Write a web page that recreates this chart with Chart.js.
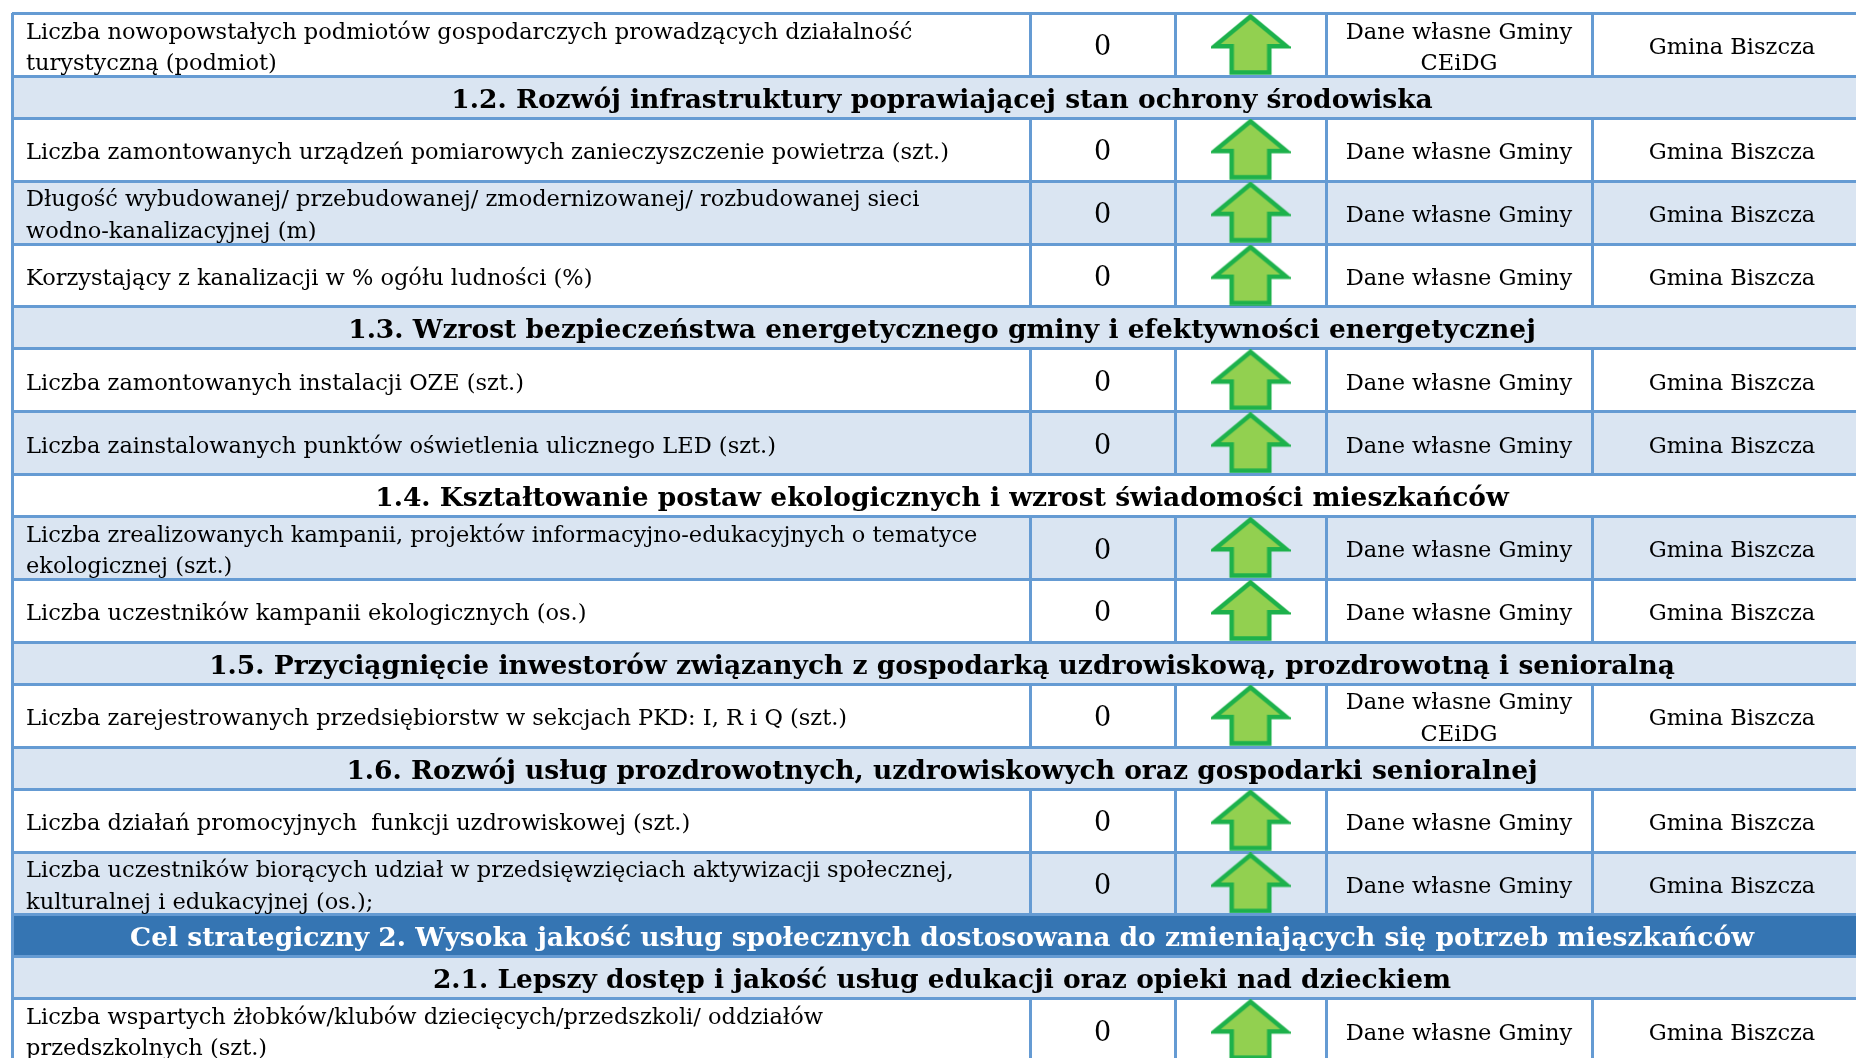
<!DOCTYPE html>
<html lang="pl">
<head>
<meta charset="utf-8">
<title>Wskaźniki</title>
<script src="https://cdn.jsdelivr.net/npm/chart.js@4.4.1/dist/chart.umd.min.js"></script>
<style>
  html, body { margin: 0; padding: 0; background: #fff; }
  #wrap { width: 1856px; height: 1058px; }
</style>
</head>
<body>
<div id="wrap"><canvas id="tabela"></canvas></div>
<script>
// rodzaj wiersza: ind = wskaźnik, sub = cel operacyjny, goal = cel strategiczny
const rowKind = ["ind", "sub", "ind", "ind", "ind", "sub", "ind", "ind", "sub", "ind",
                 "ind", "sub", "ind", "sub", "ind", "ind", "goal", "sub", "ind"];

const rowLabel = [
    "Liczba nowopowstałych podmiotów gospodarczych prowadzących działalność\nturystyczną (podmiot)",
    "1.2. Rozwój infrastruktury poprawiającej stan ochrony środowiska",
    "Liczba zamontowanych urządzeń pomiarowych zanieczyszczenie powietrza (szt.)",
    "Długość wybudowanej/ przebudowanej/ zmodernizowanej/ rozbudowanej sieci\nwodno-kanalizacyjnej (m)",
    "Korzystający z kanalizacji w % ogółu ludności (%)",
    "1.3. Wzrost bezpieczeństwa energetycznego gminy i efektywności energetycznej",
    "Liczba zamontowanych instalacji OZE (szt.)",
    "Liczba zainstalowanych punktów oświetlenia ulicznego LED (szt.)",
    "1.4. Kształtowanie postaw ekologicznych i wzrost świadomości mieszkańców",
    "Liczba zrealizowanych kampanii, projektów informacyjno-edukacyjnych o tematyce\nekologicznej (szt.)",
    "Liczba uczestników kampanii ekologicznych (os.)",
    "1.5. Przyciągnięcie inwestorów związanych z gospodarką uzdrowiskową, prozdrowotną i senioralną",
    "Liczba zarejestrowanych przedsiębiorstw w sekcjach PKD: I, R i Q (szt.)",
    "1.6. Rozwój usług prozdrowotnych, uzdrowiskowych oraz gospodarki senioralnej",
    "Liczba działań promocyjnych  funkcji uzdrowiskowej (szt.)",
    "Liczba uczestników biorących udział w przedsięwzięciach aktywizacji społecznej,\nkulturalnej i edukacyjnej (os.);",
    "Cel strategiczny 2. Wysoka jakość usług społecznych dostosowana do zmieniających się potrzeb mieszkańców",
    "2.1. Lepszy dostęp i jakość usług edukacji oraz opieki nad dzieckiem",
    "Liczba wspartych żłobków/klubów dziecięcych/przedszkoli/ oddziałów\nprzedszkolnych (szt.)"
];

const rowValue = [0, null, 0, 0, 0, null, 0, 0, null, 0, 0, null, 0, null, 0, 0, null, null, 0];

const rowTrend = ["up", null, "up", "up", "up", null, "up", "up", null, "up",
                  "up", null, "up", null, "up", "up", null, null, "up"];

const rowSource = [
    "Dane własne Gminy\nCEiDG", null, "Dane własne Gminy", "Dane własne Gminy", "Dane własne Gminy",
    null, "Dane własne Gminy", "Dane własne Gminy", null, "Dane własne Gminy",
    "Dane własne Gminy", null, "Dane własne Gminy\nCEiDG", null, "Dane własne Gminy",
    "Dane własne Gminy", null, null, "Dane własne Gminy"
];

const rowArea = [
    "Gmina Biszcza", null, "Gmina Biszcza", "Gmina Biszcza", "Gmina Biszcza",
    null, "Gmina Biszcza", "Gmina Biszcza", null, "Gmina Biszcza",
    "Gmina Biszcza", null, "Gmina Biszcza", null, "Gmina Biszcza",
    "Gmina Biszcza", null, null, "Gmina Biszcza"
];

// układ tabeli
const rowHeight = { ind: 3, sub: 2, goal: 2 };        // w jednostkach osi y
const colEdges = [12, 1030, 1175, 1326, 1592, 1872];  // w jednostkach osi x
const lineColor = "#659bd3";
const lightFill = "#dae5f2";
const darkFill = "#3575b3";
const bodyFont = '22.5px "DejaVu Serif"';
const valueFont = '27px "DejaVu Serif"';
const headFont = 'bold 26.5px "DejaVu Serif"';

const rowStart = [];
let acc = 0;
rowKind.forEach(k => { rowStart.push(acc); acc += rowHeight[k]; });

// strzałka w górę jako obrazek punktu
function makeArrow(w, h) {
    const c = document.createElement("canvas");
    c.width = w; c.height = h;
    const g = c.getContext("2d");
    const m = 2.5, headH = h * 0.53, half = w * 0.235;
    g.beginPath();
    g.moveTo(w / 2, m);
    g.lineTo(w - 4, headH);
    g.lineTo(w / 2 + half, headH);
    g.lineTo(w / 2 + half, h - m);
    g.lineTo(w / 2 - half, h - m);
    g.lineTo(w / 2 - half, headH);
    g.lineTo(4, headH);
    g.closePath();
    g.fillStyle = "#92d050";
    g.fill();
    g.lineWidth = 4.5;
    g.lineJoin = "miter";
    g.strokeStyle = "#1db14b";
    g.stroke();
    return c;
}
const arrowImg = makeArrow(80, 61);

const arrowPoints = [];
rowKind.forEach((k, i) => {
    if (rowTrend[i] === "up") {
        arrowPoints.push({ x: (colEdges[2] + colEdges[3]) / 2, y: rowStart[i] + rowHeight[k] / 2 });
    }
});

function crisp(v) { return Math.round(v) + 0.5; }

function drawLines(ctx, text, x, yc, gap) {
    const lines = text.split("\n");
    const first = yc - (lines.length - 1) * gap / 2;
    lines.forEach((t, j) => ctx.fillText(t, x, first + j * gap));
}

// tła i ramki komórek
const tablePlugin = {
    id: "tablePlugin",
    beforeDatasetsDraw(chart) {
        const { ctx, scales: { x, y } } = chart;
        const xl = x.getPixelForValue(colEdges[0]);
        const xr = x.getPixelForValue(colEdges[colEdges.length - 1]);
        ctx.save();
        rowKind.forEach((k, i) => {
            const y0 = y.getPixelForValue(rowStart[i]);
            const y1 = y.getPixelForValue(rowStart[i] + rowHeight[k]);
            ctx.fillStyle = k === "goal" ? darkFill : (i % 2 ? lightFill : "#ffffff");
            ctx.fillRect(xl, y0, xr - xl, y1 - y0);
        });
        ctx.strokeStyle = lineColor;
        ctx.lineWidth = 3;
        ctx.beginPath();
        rowKind.forEach((k, i) => {
            const y0 = y.getPixelForValue(rowStart[i]);
            const y1 = y.getPixelForValue(rowStart[i] + rowHeight[k]);
            ctx.moveTo(xl, crisp(y0)); ctx.lineTo(xr, crisp(y0));
            ctx.moveTo(xl, crisp(y1)); ctx.lineTo(xr, crisp(y1));
            const edges = k === "ind" ? colEdges : [colEdges[0], colEdges[colEdges.length - 1]];
            edges.forEach(e => {
                const px = crisp(x.getPixelForValue(e));
                ctx.moveTo(px, y0); ctx.lineTo(px, y1);
            });
        });
        ctx.stroke();
        ctx.restore();
    },
    afterDatasetsDraw(chart) {
        const { ctx, scales: { x, y } } = chart;
        const mid = (a, b) => (x.getPixelForValue(colEdges[a]) + x.getPixelForValue(colEdges[b])) / 2;
        ctx.save();
        ctx.textBaseline = "middle";
        rowKind.forEach((k, i) => {
            const yc = y.getPixelForValue(rowStart[i] + rowHeight[k] / 2) + 4;
            if (k === "ind") {
                ctx.font = bodyFont;
                ctx.fillStyle = "#000";
                ctx.textAlign = "left";
                drawLines(ctx, rowLabel[i], x.getPixelForValue(colEdges[0]) + 14, yc, 31.5);
                ctx.textAlign = "center";
                ctx.font = valueFont;
                ctx.fillText(String(rowValue[i]), mid(1, 2), yc);
                ctx.font = bodyFont;
                drawLines(ctx, rowSource[i], mid(3, 4), yc, 31.5);
                ctx.fillText(rowArea[i], mid(4, 5), yc);
            } else {
                ctx.font = headFont;
                ctx.textAlign = "center";
                ctx.fillStyle = k === "goal" ? "#ffffff" : "#000000";
                ctx.fillText(rowLabel[i], mid(0, 5), yc);
            }
        });
        ctx.restore();
    }
};

const ctx = document.getElementById("tabela").getContext("2d");

const tabela = new Chart(ctx, {
    type: "scatter",
    data: {
        datasets: [{
            label: "Trend",
            data: arrowPoints,
            pointStyle: arrowImg,
            pointRadius: 30,
            pointHoverRadius: 30
        }]
    },
    options: {
        responsive: true,
        maintainAspectRatio: false,
        animation: false,
        layout: { autoPadding: false, padding: { top: 13, left: 0, right: 0, bottom: 0 } },
        plugins: {
            legend: { display: false },
            tooltip: { enabled: false }
        },
        scales: {
            x: { type: "linear", min: 0, max: 1856, display: false },
            y: { type: "linear", min: 0, max: 49.85, reverse: true, display: false }
        }
    },
    plugins: [tablePlugin]
});
</script>
</body>
</html>
